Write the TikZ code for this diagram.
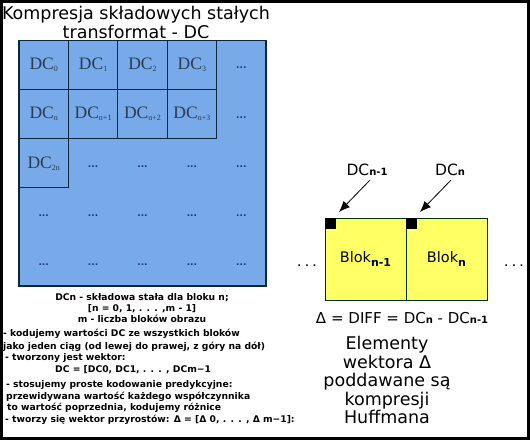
\documentclass[tikz,border=0pt]{standalone}
\usepackage{fontspec}
\setmainfont{DejaVu Sans}
\newfontfamily\serifdc{Liberation Serif}
\usetikzlibrary{positioning,arrows.meta}

\definecolor{gridblue}{RGB}{120,170,234}
\definecolor{cellline}{RGB}{10,40,60}
\definecolor{dctext}{RGB}{40,60,80}
\definecolor{dotblue}{RGB}{25,50,120}
\definecolor{blokyellow}{RGB}{255,255,102}
\definecolor{blokline}{RGB}{0,50,0}

\newcommand{\dcl}[1]{{\serifdc DC\raisebox{-2pt}{\fontsize{8}{8}\selectfont #1}}}
\newcommand{\sz}[1]{\fontsize{#1}{#1}\selectfont}

\begin{document}
\begin{tikzpicture}[x=1pt,y=-1pt,
    cell/.style={draw=cellline,line width=1pt,minimum width=49.4pt,minimum height=49.2pt,
      inner sep=0pt,text=dctext,font=\sz{17.5}},
    celldots/.style={text=dotblue,font=\sz{9}\bfseries,inner sep=0pt},
    blok/.style={draw=blokline,fill=blokyellow,line width=1pt,minimum width=81pt,
      minimum height=82pt,inner sep=0pt,font=\sz{14.5}},
    note/.style={font=\sz{9.2}\bfseries,inner sep=0pt,anchor=west},
    arr/.style={-{Latex[length=11pt,width=9pt]},line width=0.8pt}]
  \useasboundingbox (0,0) rectangle (530,440);
  \fill[white] (0,0) rectangle (530,440);
  \draw[line width=3pt] (1.5,1.5) rectangle (528.5,438.5);

  % tytul
  \node[font=\sz{17.5},align=center,inner sep=0pt] (title) at (136,22.5)
    {Kompresja składowych stałych\\[1pt]transformat - DC};

  % siatka blokow
  \draw[cellline,fill=gridblue,line width=1.2pt] (19,40.5) rectangle (266,286);
  \foreach \c/\r/\lab in {0/0/0,1/0/1,2/0/2,3/0/3,0/1/n,1/1/n+1,2/1/n+2,3/1/n+3,0/2/2n}
    \node[cell] (c\c\r) at ({19+49.4*(\c+0.5)},{40.5+49.1*(\r+0.5)}) {\dcl{\lab}};
  \foreach \c/\r in {4/0,4/1,1/2,2/2,3/2,4/2,0/3,1/3,2/3,3/3,4/3,0/4,1/4,2/4,3/4,4/4}
    \node[celldots] (d\c\r) at ({19+49.4*(\c+0.5)},{40.5+49.1*(\r+0.5)+3}) {...};

  % opis pod siatka
  \node[font=\sz{9.2}\bfseries,align=center,inner sep=0pt] (opis) at (142,308)
    {DCn - składowa stała dla bloku n;\\[1.5pt][n = 0, 1, . . . ,m - 1]\\[1.5pt]m - liczba bloków obrazu};
  \node[note] (t1) at (3,334) {- kodujemy wartości DC ze wszystkich bloków};
  \node[note] (t2) at (3,347) {jako jeden ciąg (od lewej do prawej, z góry na dół)};
  \node[note] (t3) at (5,358) {- tworzony jest wektor:};
  \node[note] (t4) at (55,370) {DC = [DC0, DC1, . . . , DCm−1};
  \node[note] (t5) at (6,385) {- stosujemy proste kodowanie predykcyjne:};
  \node[note] (t6) at (6,397) {przewidywana wartość każdego współczynnika};
  \node[note] (t7) at (7,408) {to wartość poprzednia, kodujemy różnice};
  \node[note] (t8) at (5,420) {- tworzy się wektor przyrostów: Δ = [Δ 0, . . . , Δ m−1]:};

  % bloki
  \node[blok] (blokA) at (365.5,259) {Blok\raisebox{-4pt}{\sz{11}\bfseries n-1}};
  \node[blok] (blokB) at (446.5,259) {Blok\raisebox{-4pt}{\sz{11}\bfseries n}};
  \fill (blokA.north west) rectangle ++(11,11);
  \fill (blokB.north west) rectangle ++(11,11);
  \node[font=\sz{9}\bfseries] (dotsL) at (307,266) {. . .};
  \node[font=\sz{9}\bfseries] (dotsR) at (514,266) {. . .};

  \node[font=\sz{15.5},inner sep=0pt] (dcA) at (367,170) {DC{\sz{10}\bfseries n-1}};
  \node[font=\sz{15.5},inner sep=0pt] (dcB) at (450,170) {DC{\sz{10}\bfseries n}};
  \coordinate (tipA) at (339,212);
  \coordinate (tipB) at (420,212);
  \draw[arr] ([xshift=3pt,yshift=-4pt]dcA.south) -- (tipA);
  \draw[arr] ([xshift=1pt,yshift=-4pt]dcB.south) -- (tipB);

  % roznica
  \node[font=\sz{15},inner sep=0pt] (diff) at (402,318)
    {Δ\,\,= DIFF = DC{\sz{10}\bfseries n} - DC{\sz{10}\bfseries n-1}};
  \node[font=\sz{17.5},align=center,inner sep=0pt] (huff) at (387,380)
    {Elementy\\[1pt]wektora Δ\\[1pt]poddawane są\\[1pt]kompresji\\[1pt]Huffmana};
\end{tikzpicture}
\end{document}
